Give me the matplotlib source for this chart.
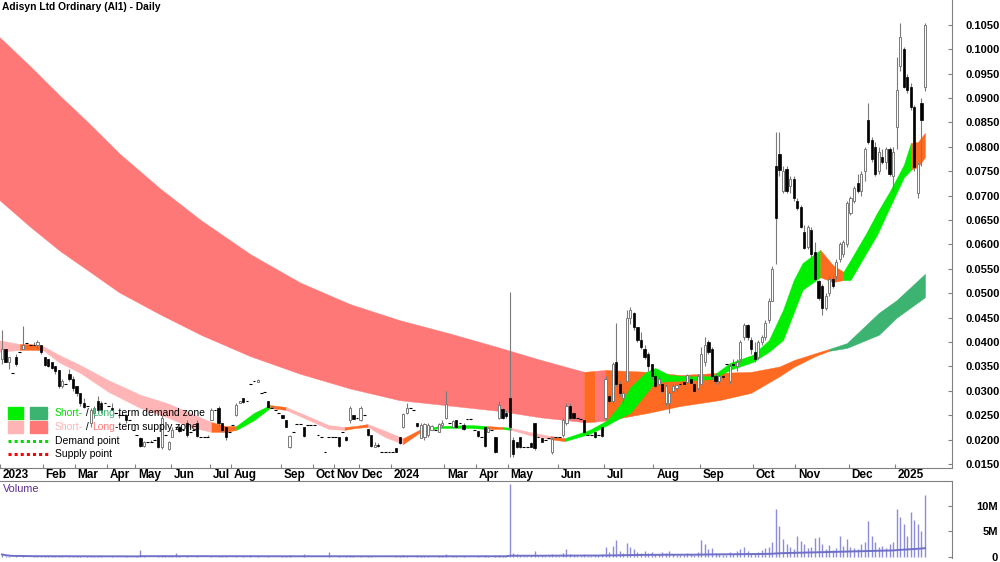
import matplotlib
matplotlib.use("Agg")
import matplotlib.pyplot as plt
from matplotlib.patches import Rectangle
from matplotlib.lines import Line2D
from matplotlib.transforms import ScaledTranslation
import numpy as np
import pandas as pd

plt.rcParams['font.family'] = ['Liberation Sans', 'DejaVu Sans']

# prices in thousandths of a dollar (38.5 -> 0.0385), one bar per traded day
opens = [36.5, 38.5, 36, 33.7, 37, 38, 38.5, 39.8, 39.5, 39.5, 39.5, 39.5,  # Jan 23
         37, 36.5, 36, 35, 34.3, 31, 31.5, 33.5, 32.5,  # Feb
         31, 29.5, 27.5, 27, 23.5, 25.5, 28, 27.5, 27.5,  # Mar
         27, 26.5, 25.5, 25, 25, 25, 24, 22,  # Apr
         21, 20.3, 18.8, 19.5, 19.5, 20, 20.5, 18.5, 21, 18,  # May
         20.5, 22.5, 22.5, 22, 23.5, 21.5, 22, 23.5, 20.5, 20.5, 20.5,  # Jun
         24, 26, 26.5, 23.5, 22.5, 21.5,  # Jul
         23, 25, 27.5, 28.5, 28, 31.5, 32, 31.8, 29.5, 29.8, 28, 26.5, 26, 25.5,  # Aug
         25, 24, 18.5, 21.5, 23.2, 23.2, 22.5, 23, 23,  # Sep
         23, 21, 20.5, 17.5, 20.5, 20.5,  # Oct
         20.5, 20.5, 21.5, 20.5, 24, 25, 24.5,  # Nov
         24, 25, 22.2, 21, 18.5, 19, 17.5, 17.5, 17.5,  # Dec
         17.5, 18.3, 20.5, 22.5, 25.5, 26.5, 26, 23.5, 20.3, 20.5, 21, 22, 22, 21.5, 23,  # Jan-Feb 24
         24.5, 23.5, 22.5, 24, 23.5, 23, 24.3, 24.3, 22,  # Mar
         21.8, 20.5, 22.5, 21.5, 22, 20.5, 24.5, 26.3, 25.5,  # Apr
         28.5, 20, 19.5, 20.5, 18.5, 18.5, 19.3, 23.5, 20.5, 20.3, 20, 20.3, 17.5, 20.5,  # May
         20.5, 21, 23.5, 27, 25.5, 24.5, 24.3, 24, 21, 21, 21.5, 21, 22.5,  # Jun
         24.5, 29, 28, 36, 31.5, 28.5, 32, 45, 46, 43, 40.5, 38.5, 37.5, 35.5,  # Jul
         33, 31.5, 31.5, 27.5, 27.5, 30, 30.5, 31.5, 31.8, 31.8, 32.5, 31.5, 30.5,  # Aug
         31.5, 36, 40, 38.5, 33, 32, 33, 35.5, 32, 35.5, 35, 36.5, 41, 43.5, 40.5,  # Sep
         38, 37, 40, 41, 44.5, 48.5, 76, 78.5, 71, 75.5, 72, 73.5,  # Oct
         69, 67.7, 62.5, 59.5, 63, 58.5, 52.5, 51.5, 47, 50, 53, 53.5, 57, 58, 60,  # Nov
         66.5, 69, 72.5, 71, 75, 85.5, 81.5, 80, 75, 78, 77, 79.5, 74,  # Dec
         84, 96.5, 100, 94.3, 92.3, 88.2, 70.5, 89, 92.3]  # Jan 25
highs = [42.5, 38.5, 37, 33.7, 37.5, 38, 43.3, 39.8, 39.5, 40, 40.5, 39.5,
         37, 36.5, 36, 35, 34.3, 32.5, 31.5, 34.5, 33,
         31, 29.5, 28.5, 27, 26.5, 27, 29, 28, 27.5,
         27, 27.5, 25.5, 25.5, 25, 25, 24, 22,
         21, 20.5, 19.8, 19.5, 20, 20, 20.5, 25, 21, 19.8,
         22.5, 22.5, 23, 22, 24, 21.5, 22, 24, 20.5, 20.5, 21,
         26.5, 26, 27, 23.5, 22.5, 21.5,
         23, 27.5, 28, 28.5, 28, 31.5, 32, 32.5, 29.5, 29.8, 28, 27, 26, 25.5,
         25, 24, 21, 21.5, 23.2, 23.2, 22.5, 23, 23,
         23, 21, 20.5, 17.5, 20.5, 20.5,
         20.5, 20.5, 21.5, 20.8, 27, 25, 24.5,
         27, 25, 22.2, 21, 19.5, 19.3, 17.5, 17.5, 17.5,
         17.5, 18.3, 20.5, 25.5, 27.5, 26.5, 26, 23.5, 23.5, 23.5, 23.5, 23, 22, 23.5, 24,
         30, 23.5, 24, 24, 23.5, 23.5, 24.3, 24.3, 22,
         21.8, 20.5, 22.5, 22.5, 22, 20.5, 28, 26.5, 26,
         50.3, 20.5, 19.5, 20.5, 18.5, 18.5, 19.5, 23.5, 20.5, 20.3, 20, 20.3, 20.5, 20.5,
         20.5, 24.5, 27.5, 27.5, 25.5, 24.5, 24.3, 24, 21, 21, 21.5, 21, 22.5,
         33, 29.5, 36, 44, 32, 30, 46.5, 47.2, 46.2, 43, 42, 39.5, 38, 35.5,
         34, 33, 31.5, 31.5, 30, 31.5, 31.5, 31.5, 31.8, 33.5, 33, 31.7, 33.5,
         39, 41, 40.5, 39, 33.5, 33.5, 33.5, 35.5, 35.5, 36.5, 36.5, 40.5, 44, 43.8, 41,
         40, 40.5, 41.5, 44.5, 49, 55.5, 83, 83, 76, 76, 74, 74,
         69.5, 68, 64, 64, 63.5, 60.5, 52.7, 52, 50, 53.5, 53.5, 57, 60.5, 61, 69,
         70, 72, 74.5, 75, 80, 89, 82, 81, 80, 79.5, 80, 80, 80,
         98.5, 105.4, 100.5, 95, 93, 88.5, 77, 90, 105.4]
lows = [35.5, 36, 34.5, 33.7, 35, 38, 38.5, 39.8, 39.5, 39.5, 38.5, 37.5,
        35, 34.8, 34.5, 33.5, 30.5, 30.5, 31.5, 32, 30,
        29, 27, 26.5, 27, 22.5, 24.5, 25.5, 25.5, 27.5,
        27, 26, 25.5, 24.5, 25, 23.5, 24, 22,
        21, 18.5, 18.5, 19.5, 19.5, 20, 18.3, 18, 21, 17.9,
        20.5, 22.5, 21.5, 22, 20.5, 21.5, 22, 20.5, 20.5, 20.5, 20.5,
        24, 26, 23, 21.5, 20, 21.5,
        23, 24.8, 27.5, 27.5, 28, 31.5, 32, 31.8, 29.5, 29.8, 26.5, 26.5, 26, 25.5,
        24.5, 22.5, 18.3, 21.5, 23.2, 23.2, 20.5, 23, 23,
        23, 21, 20.5, 17.5, 20.5, 20.5,
        20.5, 18.5, 21.5, 19.8, 23.5, 24.2, 24.5,
        23.8, 25, 20.8, 18.5, 18.5, 18.5, 17.5, 17.5, 17.5,
        17.5, 17.4, 19.2, 22.3, 25.3, 26.5, 26, 22.6, 20.3, 20, 20.5, 22, 22, 21.5, 22.5,
        24.3, 23.5, 22.5, 22.3, 23.5, 22, 24.3, 24.3, 22,
        20.5, 20.5, 18.5, 21.5, 22, 17.3, 24.3, 24.3, 24.5,
        16.4, 16.5, 18.3, 18.3, 18.5, 18.5, 18.5, 17.8, 20.5, 19.5, 20, 20.3, 17, 20.5,
        20.5, 20.5, 23, 24.2, 24.2, 24.5, 24.3, 21.3, 21, 21, 20.3, 21, 20.5,
        24, 27.5, 27.5, 31, 29, 27.5, 32, 43.8, 42.5, 40, 38.5, 36.5, 34, 32.5,
        30.5, 31, 29.5, 27, 25.5, 29.5, 30, 31.5, 31.5, 31.5, 31.5, 29.8, 30.2,
        31.5, 35, 37.5, 32.5, 31.5, 31.5, 32.5, 35.5, 31.5, 35, 34, 36, 40.5, 40.5, 37.5,
        36, 36.5, 39.5, 40.5, 44, 48.5, 56, 74, 70.5, 70.5, 70.5, 69,
        67, 63.3, 59, 59, 57.5, 52.5, 48.6, 45.5, 46.5, 49.5, 51, 53, 56.5, 57.5, 59.5,
        66, 68.5, 70.5, 70, 73, 80.5, 77, 74, 74.5, 76.5, 75.5, 74, 71,
        79.5, 95.5, 92, 91, 87.5, 75, 69.5, 76, 91.5]
closes = [38.5, 36, 37, 33.7, 35.5, 38, 39.5, 39.8, 39.5, 39.5, 40, 38,
          35.3, 35, 34.7, 34, 31, 32, 31.5, 32.5, 30.5,
          29.5, 27.5, 26.8, 27, 26, 26.5, 26, 26, 27.5,
          27, 26, 25.5, 25, 25, 24, 24, 22,
          21, 18.7, 19.5, 19.5, 19.5, 20, 18.5, 24.5, 21, 19.5,
          22, 22.5, 21.8, 22, 21, 21.5, 22, 20.8, 20.5, 20.5, 20.5,
          26, 26, 23.5, 22, 20.5, 21.5,
          23, 27.2, 28, 27.8, 28, 31.5, 32, 32.3, 29.5, 29.8, 26.6, 26.5, 26, 25.5,
          24.5, 22.6, 20.8, 21.5, 23.2, 23.2, 20.7, 23, 23,
          23, 21, 20.5, 17.5, 20.5, 20.5,
          20.5, 18.7, 21.5, 20, 26.5, 24.3, 24.5,
          26.5, 25, 21, 18.7, 19, 18.7, 17.5, 17.5, 17.5,
          17.5, 17.5, 19.3, 25.3, 26.5, 26.5, 26, 22.8, 23, 23.2, 23, 22.8, 22, 23.2, 23.5,
          27.3, 23.5, 23.8, 22.5, 23.5, 22.2, 24.3, 24.3, 22,
          20.7, 20.5, 18.7, 22.3, 22, 17.5, 27.2, 24.5, 24.8,
          22.5, 17, 18.5, 18.5, 18.5, 18.5, 18.6, 18.2, 20.5, 19.6, 20, 20.3, 20.2, 20.5,
          20.5, 24, 27, 24.5, 24.5, 24.5, 24.3, 21.5, 21, 21, 20.5, 21, 20.7,
          32.5, 28, 35.5, 31.5, 29.5, 29.5, 45, 46.5, 43, 40.5, 39, 37, 35, 33,
          31, 32.5, 30, 31, 29.5, 31, 31.2, 31.5, 31.5, 33.2, 31.7, 30, 33,
          37.5, 39.5, 38, 33, 32, 33, 32.8, 35.5, 35, 35.3, 36, 40, 43.5, 41, 38.5,
          36.5, 40, 41, 44, 48.5, 55, 65.5, 75.2, 75, 71, 73.5, 69.5,
          67.5, 63.6, 59.2, 63.5, 58, 53, 49, 47, 49.5, 53, 51.5, 56.5, 60, 60.5, 68.5,
          69.5, 71.5, 71, 74.5, 79.5, 81, 77.5, 74.5, 79, 77, 79.5, 74.5, 79,
          91.7, 102.5, 92.3, 91.7, 88.2, 75.9, 76.5, 85.5, 105]

# volume in millions of shares
volumes = [0.5, 0.2, 0.1, 0.05, 0.15, 0.05, 0.3, 0.05, 0.05, 0.1,
           0.2, 0.15, 0.1, 0.1, 0.1, 0.15, 0.2, 0.1, 0.05, 0.1,
           0.15, 0.1, 0.1, 0.05, 0.2, 0.1, 0.1, 0.15, 0.1, 0.05,
           0.05, 0.1, 0.05, 0.05, 0.05, 0.1, 0.05, 0.05, 0.1, 1.4,
           0.1, 0.05, 0.05, 0.05, 0.1, 0.4, 0.1, 0.2, 0.1, 0.8,
           0.1, 0.05, 0.2, 0.05, 0.05, 0.2, 0.05, 0.05, 0.05, 0.1,
           0.05, 0.15, 0.2, 0.2, 0.05, 0.05, 0.2, 0.05, 0.1, 0.05,
           0.3, 0.05, 0.1, 0.05, 0.05, 0.2, 0.05, 0.05, 0.05, 0.1,
           0.1, 0.3, 0.05, 0.05, 0.05, 0.6, 0.05, 0.05, 0.05, 0.05,
           0.05, 0.05, 1.0, 0.05, 0.05, 0.1, 0.05, 0.1, 0.3, 0.1,
           0.05, 0.2, 0.05, 0.1, 0.1, 0.05, 0.05, 0.05, 0.05, 0.05,
           0.05, 0.1, 0.1, 0.3, 0.2, 0.05, 0.05, 0.4, 0.2, 0.1,
           0.1, 0.05, 0.05, 0.1, 0.1, 0.5, 0.05, 0.1, 0.1, 0.05,
           0.1, 0.05, 0.05, 0.05, 0.1, 0.05, 0.3, 0.1, 0.05, 0.3,
           0.4, 0.2, 0.3,
           14.3, 0.8, 0.5, 0.3, 0.2, 0.1, 0.3, 1.2, 0.2, 0.3, 0.2, 0.1, 0.6, 0.2,
           0.2, 0.8, 1.5, 0.6, 0.4, 0.2, 0.2, 0.6, 0.2, 0.2, 0.4, 0.3, 0.6,
           2.0, 1.0, 2.2, 3.3, 1.2, 0.8, 2.8, 2.0, 1.5, 1.0, 0.8, 1.2, 0.7, 0.9,
           0.6, 0.5, 0.9, 0.7, 1.2, 0.5, 0.4, 0.3, 0.3, 0.8, 0.5, 0.4, 0.9,
           3.3, 2.6, 1.5, 1.8, 0.8, 0.6, 0.4, 0.3, 1.0, 0.6, 1.2, 1.5, 2.0, 1.1, 0.8,
           0.7, 1.0, 1.3, 1.8, 2.0, 3.0, 9.4, 6.0, 3.5, 2.5, 2.0, 1.5,
           4.0, 3.2, 2.5, 1.8, 2.0, 3.6, 3.8, 2.6, 1.5, 2.4, 1.3, 1.8, 4.0, 2.2, 3.5,
           2.0, 1.8, 1.5, 2.5, 3.0, 7.0, 4.0, 3.0, 2.0, 2.2, 1.8, 2.5, 3.0,
           9.3, 7.8, 6.5, 4.0, 8.8, 7.2, 6.5, 5.0, 12.0]

month_pos = [0, 12, 21, 30, 38, 48, 59, 65, 79, 88, 94, 101, 110, 125, 134, 143,
             157, 170, 184, 197, 212, 224, 239, 252]
month_lbl = ['2023', 'Feb', 'Mar', 'Apr', 'May', 'Jun', 'Jul', 'Aug', 'Sep', 'Oct', 'Nov', 'Dec',
             '2024', 'Mar', 'Apr', 'May', 'Jun', 'Jul', 'Aug', 'Sep', 'Oct', 'Nov', 'Dec', '2025']

# long-term zone (bar index, upper, lower, state)
lt_x = [-1, 8, 16.3, 24, 33, 44.5, 56, 70, 84, 98, 112, 126, 140, 151.5, 164, 167, 170, 182, 191,
        202, 211, 219, 223, 229, 233, 238, 247, 252, 260]
lt_top = [102.7, 96.5, 90.5, 85.2, 78.7, 71.5, 65.0, 58.0, 52.2, 47.8, 44.5, 41.8, 38.9, 36.4,
          33.9, 34.1, 34.3, 33.9, 33.25, 33.7, 33.9, 35.0, 36.3, 37.7, 38.6, 39.8, 46.0, 48.6, 54.0]
lt_bot = [69.3, 63.6, 58.7, 54.8, 50.2, 45.7, 41.5, 37.1, 33.5, 30.5, 28.1, 27.0, 25.9, 24.6,
          23.6, 23.7, 23.9, 25.5, 26.9, 28.1, 29.6, 33.0, 34.9, 37.1, 38.2, 38.8, 41.5, 45.0, 49.2]
lt_state = "SSSSSSSSSSSSSSOSOOOOOOOOGGGGG"

# short-term zone
st_x = [-1, 5, 8, 11.5, 16, 22, 30, 39, 46.5, 53, 59, 63, 66, 71, 75.5, 80, 84, 92, 96.5, 99.5,
        103, 108, 113, 117.5, 123, 132, 136.5, 141, 143.5, 148.5, 154.5, 158.5, 165.5, 170.5,
        174, 177, 181.5, 184, 188, 194, 200, 205, 211.5, 216, 220, 223, 225.5, 230.5, 234, 237,
        239, 243.5, 246.5, 250, 254, 256, 258, 260]
st_top = [40.4, 39.6, 39.6, 39.2, 37.4, 35.3, 32.2, 29.2, 27.5, 25.5, 23.6, 22.8, 22.8, 25.5,
          27.1, 26.7, 25.5, 23.0, 22.6, 22.8, 23.2, 21.8, 20.3, 22.0, 22.8, 23.0, 22.8, 22.6,
          22.4, 21.6, 20.75, 20.3, 22.0, 24.0, 27.1, 30.8, 33.9, 34.7, 33.25, 33.0, 33.0, 35.7,
          37.4, 40.4, 46.6, 52.7, 56.2, 58.9, 55.8, 54.4, 56.8, 62.4, 66.5, 70.8, 76.3, 80.8,
          81.0, 82.9]
st_bot = [38.0, 38.4, 38.4, 38.4, 35.9, 33.7, 29.8, 26.5, 24.6, 22.6, 21.6, 21.6, 22.0, 24.0,
          26.5, 26.1, 24.8, 22.2, 22.0, 22.4, 22.6, 20.5, 19.1, 21.4, 22.4, 22.4, 22.2, 22.2,
          22.0, 20.95, 20.1, 19.7, 21.2, 23.0, 24.4, 25.5, 29.6, 31.8, 32.0, 32.2, 32.4, 34.3,
          35.9, 38.0, 40.4, 46.0, 50.7, 53.3, 52.3, 52.7, 52.7, 58.3, 62.0, 67.5, 73.7, 75.3,
          75.9, 77.9]
st_state = "SOOSSSSSSS" + "OODDOSSSOO" + "SSODDDODSS" + "OD" + "D" * 15 + "OODDDDDDOOO"

lt_colors = {'S': '#FF7878', 'O': '#FF6A22', 'G': '#3CB371'}
st_colors = {'S': '#FFB5B5', 'O': '#FF6A22', 'D': '#00EE00'}


def draw_zone(ax, xs, top, bot, states, colors, z):
    xs = np.array(xs, float)
    top = np.array(top) / 1000
    bot = np.array(bot) / 1000
    i = 0
    n = len(xs)
    while i < n - 1:
        j = i
        while j < n - 1 and states[j] == states[i]:
            j += 1
        c = colors[states[i]]
        ax.fill_between(xs[i:j + 1], top[i:j + 1], bot[i:j + 1], color=c, ec=c, lw=0.3, zorder=z)
        i = j


fig = plt.figure(figsize=(10, 5.62), dpi=100)
ax = fig.add_axes([0, 94 / 562, 0.952, 468 / 562])
axv = fig.add_axes([0, 4 / 562, 0.952, 77 / 562])

o = np.array(opens) / 1000
h = np.array(highs) / 1000
l = np.array(lows) / 1000
c = np.array(closes) / 1000
idx = np.arange(len(c))

draw_zone(ax, lt_x, lt_top, lt_bot, lt_state, lt_colors, 1)
draw_zone(ax, st_x, st_top, st_bot, st_state, st_colors, 2)

# candles
up = c > o
dn = c < o
fl = c == o
wick = h > l
ax.vlines(idx[wick], l[wick], h[wick], color='#7a7a7a', lw=0.8, zorder=3)
ax.bar(idx[up], (c - o)[up], bottom=o[up], width=0.6, color='white', edgecolor='#7a7a7a',
       lw=0.7, zorder=4)
ax.bar(idx[dn], (c - o)[dn], bottom=o[dn], width=0.6, color='black', edgecolor='black',
       lw=0.5, zorder=4)
ax.hlines(c[fl], idx[fl] - 0.4, idx[fl] + 0.4, color='black', lw=0.8, zorder=4)

ax.set_xlim(-0.56, 267.6)
ax.set_ylim(0.0142, 0.1101)
for s in ['top', 'left']:
    ax.spines[s].set_visible(False)
for s in ['bottom', 'right']:
    ax.spines[s].set_color('#808080')
ax.yaxis.tick_right()
yt = np.arange(0.015, 0.10501, 0.005)
ax.set_yticks(yt)
ax.set_yticklabels([f'{v:.4f}' for v in yt], fontweight='bold', fontsize=8)
ax.tick_params(axis='y', direction='in', length=3, color='#808080', pad=10)
ax.set_xticks(np.array(month_pos) - 0.5)
ax.set_xticklabels(month_lbl, fontweight='bold', fontsize=8.5)
ax.tick_params(axis='x', direction='in', length=3, color='#808080', pad=1)
for lbl in ax.get_xticklabels():
    lbl.set_ha('left')
    lbl.set_transform(lbl.get_transform() + ScaledTranslation(2 / 72, 0, fig.dpi_scale_trans))

# volume panel
vol = np.array(volumes) * 1e6
axv.vlines(idx, 0, vol, color='#8C8CDA', lw=1.0)
vma = pd.Series(vol).rolling(150, min_periods=1).mean()
axv.plot(idx, vma, color='#7070C8', lw=1.4)
axv.set_xlim(-0.56, 267.6)
axv.set_ylim(-0.2e6, 14.8e6)
for s in ['bottom', 'left']:
    axv.spines[s].set_visible(False)
for s in ['top', 'right']:
    axv.spines[s].set_color('#808080')
axv.set_xticks([])
axv.yaxis.tick_right()
axv.set_yticks([0, 5e6, 10e6])
axv.set_yticklabels(['0', '5M', '10M'], fontweight='bold', fontsize=8)
axv.tick_params(axis='y', direction='in', length=3, color='#808080', pad=33)
for lbl in axv.get_yticklabels():
    lbl.set_ha('right')

fig.text(0.002, 1 - 7 / 562, 'Adisyn Ltd Ordinary (AI1) - Daily', fontsize=7.4,
         fontweight='bold', va='center', ha='left')
fig.text(0.003, 1 - 489 / 562, 'Volume', fontsize=7.8, color='#5B2A8E', va='center')

# legend
W, H = 1000, 562
r = fig.canvas.get_renderer()


def px_rect(x0, y0, w, hh, col):
    fig.add_artist(Rectangle((x0 / W, 1 - (y0 + hh) / H), w / W, hh / H,
                             transform=fig.transFigure, color=col, zorder=5))


def chain(x, y, parts):
    x = x / W
    for s, col in parts:
        t = fig.text(x, 1 - y / H, s, color=col, fontsize=7.5, va='center', ha='left', zorder=6)
        x += t.get_window_extent(renderer=r).width / W


px_rect(8, 407, 15, 12, '#00EE00')
px_rect(30, 407, 17, 12, '#3CB371')
px_rect(8, 421, 15, 12, '#FFB5B5')
px_rect(30, 421, 17, 12, '#FF7878')
fig.add_artist(Line2D([8 / W, 48 / W], [1 - 441 / H] * 2, transform=fig.transFigure,
                      color='#00DD00', lw=2.2, ls=(0, (1, 1)), zorder=5))
fig.add_artist(Line2D([8 / W, 48 / W], [1 - 454 / H] * 2, transform=fig.transFigure,
                      color='#FF0000', lw=2.2, ls=(0, (1, 1)), zorder=5))
chain(55, 413, [('Short-', '#00DD00'), (' / ', 'black'), ('Long', '#3CB371'),
                ('-term demand zone', 'black')])
chain(55, 427, [('Short-', '#FFB5B5'), (' / ', 'black'), ('Long', '#FF7878'),
                ('-term supply zone', 'black')])
chain(55, 441, [('Demand point', 'black')])
chain(55, 454, [('Supply point', 'black')])

fig.savefig('out.png', dpi=100)
